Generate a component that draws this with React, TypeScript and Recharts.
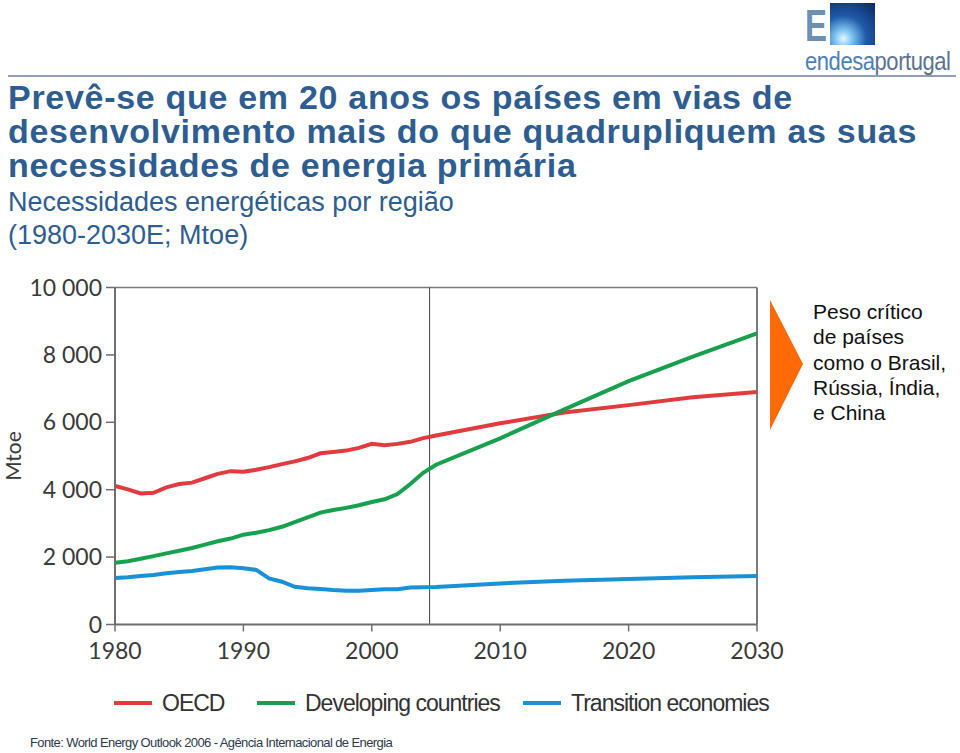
import React from 'react';
import { LineChart, Line, XAxis, YAxis, ReferenceLine } from 'recharts';

// years: annual history to 2005, then projections every 5 years
const years = [
  1980, 1981, 1982, 1983, 1984, 1985, 1986, 1987, 1988, 1989,
  1990, 1991, 1992, 1993, 1994, 1995, 1996, 1997, 1998, 1999,
  2000, 2001, 2002, 2003, 2004, 2005, 2010, 2015, 2020, 2025, 2030,
];

const oecd = [
  4110, 4010, 3890, 3910, 4070, 4170, 4210, 4340, 4470, 4550,
  4530, 4590, 4670, 4760, 4840, 4940, 5080, 5120, 5160, 5240,
  5360, 5320, 5360, 5420, 5530, 5610, 5970, 6290, 6510, 6740, 6900,
];

const developing = [
  1830, 1875, 1950, 2030, 2110, 2190, 2270, 2370, 2470, 2550,
  2665, 2725, 2800, 2900, 3040, 3180, 3320, 3400, 3460, 3540,
  3635, 3715, 3870, 4170, 4500, 4740, 5525, 6385, 7220, 7950, 8640,
];

const transition = [
  1380, 1400, 1440, 1470, 1520, 1560, 1590, 1640, 1690, 1700,
  1670, 1620, 1370, 1270, 1120, 1075, 1055, 1025, 1005, 1005,
  1025, 1045, 1045, 1095, 1105, 1110, 1220, 1300, 1350, 1400, 1440,
];

const xTicks = [1980, 1990, 2000, 2010, 2020, 2030];
const yTicks = [0, 2000, 4000, 6000, 8000, 10000];
const lastHistoricYear = 2004.5;

const series = [
  { key: 'oecd', name: 'OECD', color: '#e23b3f', itemWidth: 143 },
  { key: 'developing', name: 'Developing countries', color: '#17a04e', itemWidth: 266 },
  { key: 'transition', name: 'Transition economies', color: '#1a90d6', itemWidth: 250 },
];

const data = years.map((year, i) => ({
  year,
  oecd: oecd[i],
  developing: developing[i],
  transition: transition[i],
}));

const titleBlue = '#2e5d92';
const tickFont = 'Lato, "DejaVu Sans", sans-serif';

const fmtY = (v: number) => (v === 0 ? '0' : `${v / 1000} 000`);

export default function App() {
  return (
    <div style={{ position: 'absolute', left: 0, top: 0, width: 960, height: 753, background: '#fff', overflow: 'hidden', fontFamily: '"Liberation Sans", Arial, sans-serif' }}>
      {/* logo */}
      <div style={{ position: 'absolute', left: 830, top: 3, width: 45, height: 42, background: 'radial-gradient(circle at 30% 85%, #e8f6ff 0%, #7fc4f0 18%, #1f5aa8 48%, #0d2566 100%)' }} />
      <div style={{ position: 'absolute', left: 805, top: 4, color: '#6d8fb3', fontSize: 44, fontWeight: 700, lineHeight: '44px', whiteSpace: 'nowrap', transform: 'scaleX(0.75)', transformOrigin: 'left' }}>E</div>
      <div style={{ position: 'absolute', left: 805, top: 47, fontSize: 25, lineHeight: '28px', letterSpacing: -0.5, whiteSpace: 'nowrap', transform: 'scaleX(0.88)', transformOrigin: 'left' }}>
        <span style={{ color: '#4d7fb7' }}>endesa</span>
        <span style={{ color: '#5f7390' }}>portugal</span>
      </div>
      <div style={{ position: 'absolute', left: 8, top: 75, width: 948, height: 2, background: '#8fa0b4' }} />

      {/* titles */}
      <div style={{ position: 'absolute', left: 8, top: 80, color: titleBlue, fontSize: 34, letterSpacing: 0.7, fontWeight: 700, lineHeight: '34px', whiteSpace: 'nowrap' }}>
        <div>Prevê-se que em 20 anos os países em vias de</div>
        <div>desenvolvimento mais do que quadrupliquem as suas</div>
        <div>necessidades de energia primária</div>
      </div>
      <div style={{ position: 'absolute', left: 8, top: 186, color: titleBlue, fontSize: 27, lineHeight: '33px', whiteSpace: 'nowrap' }}>
        <div>Necessidades energéticas por região</div>
        <div>(1980-2030E; Mtoe)</div>
      </div>

      {/* chart */}
      <div style={{ position: 'absolute', left: 0, top: 0 }}>
        <LineChart width={960} height={753} data={data} margin={{ top: 287.5, right: 203, bottom: 88.5, left: 15 }}>
          <XAxis
            dataKey="year"
            type="number"
            domain={[1980, 2030]}
            ticks={xTicks}
            interval={0}
            axisLine={{ stroke: '#6f6f6f', strokeWidth: 2 }}
            tickLine={{ stroke: '#6f6f6f', strokeWidth: 1.5 }}
            tickSize={7}
            height={40}
            tick={{ fill: '#3a3a3a', fontSize: 23, fontFamily: tickFont }}
            tickMargin={11}
          />
          <YAxis
            type="number"
            domain={[0, 10000]}
            ticks={yTicks}
            interval={0}
            width={100}
            axisLine={{ stroke: '#6f6f6f', strokeWidth: 2 }}
            tickLine={{ stroke: '#6f6f6f', strokeWidth: 1.5 }}
            tickSize={9}
            tickMargin={4}
            tickFormatter={fmtY}
            tick={{ fill: '#3a3a3a', fontSize: 23, fontFamily: tickFont }}
            label={{ value: 'Mtoe', angle: -90, position: 'insideLeft', offset: -1, style: { fill: '#3a3a3a', fontSize: 21, fontFamily: tickFont, textAnchor: 'middle' } }}
          />
          <ReferenceLine y={10000} stroke="#7a7a7a" strokeWidth={1.5} />
          <ReferenceLine x={2030} stroke="#7a7a7a" strokeWidth={2} />
          <ReferenceLine x={lastHistoricYear} stroke="#444" strokeWidth={1} />
          {series.map((s) => (
            <Line
              key={s.key}
              type="linear"
              dataKey={s.key}
              name={s.name}
              stroke={s.color}
              strokeWidth={4}
              dot={false}
              isAnimationActive={false}
            />
          ))}
        </LineChart>
      </div>

      {/* legend */}
      <div style={{ position: 'absolute', left: 114, top: 689, height: 28, display: 'flex', alignItems: 'center', fontSize: 23, letterSpacing: -1, color: '#333', whiteSpace: 'nowrap' }}>
        {series.map((s) => (
          <div key={s.key} style={{ display: 'flex', alignItems: 'center', width: s.itemWidth }}>
            <div style={{ width: 38, height: 4, background: s.color, marginRight: 10 }} />
            <span>{s.name}</span>
          </div>
        ))}
      </div>

      {/* annotation */}
      <svg style={{ position: 'absolute', left: 768, top: 298 }} width={38} height={134}>
        <polygon points="2,2 35,66 2,132" fill="#ff6a06" />
      </svg>
      <div style={{ position: 'absolute', left: 813, top: 299, fontSize: 21, lineHeight: '25.3px', color: '#111', whiteSpace: 'nowrap' }}>
        <div>Peso crítico</div>
        <div>de países</div>
        <div>como o Brasil,</div>
        <div>Rússia, Índia,</div>
        <div>e China</div>
      </div>

      {/* source */}
      <div style={{ position: 'absolute', left: 30, top: 735, fontSize: 13, letterSpacing: -0.6, lineHeight: '16px', color: '#2d3a4f', whiteSpace: 'nowrap' }}>
        Fonte: World Energy Outlook 2006 - Agência Internacional de Energia
      </div>
    </div>
  );
}
